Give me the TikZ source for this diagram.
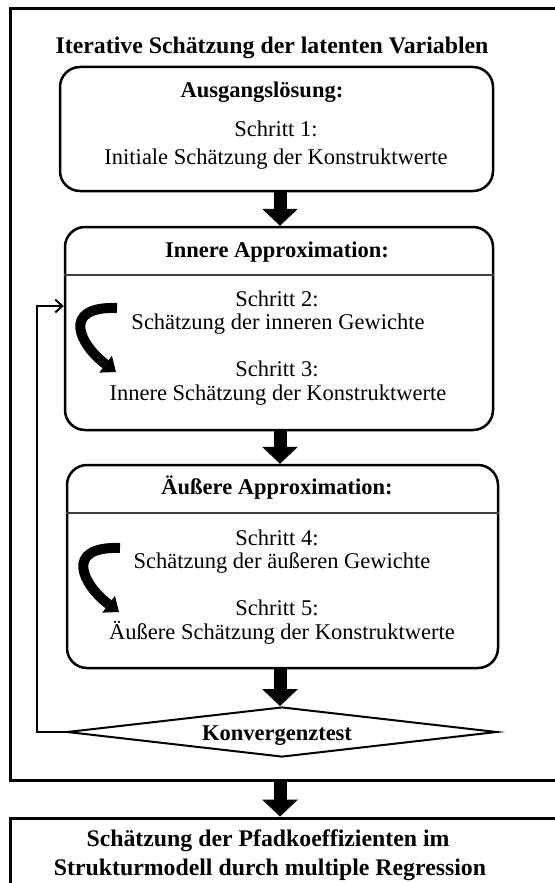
\documentclass[tikz,border=0pt]{standalone}
\usepackage{fontspec}
\setmainfont{Liberation Serif}
\usetikzlibrary{arrows.meta,shapes.geometric}

\begin{document}
\begin{tikzpicture}[x=1pt,y=-1pt,
  txt/.style={font=\fontsize{22.5}{27}\selectfont, inner sep=0pt, anchor=base},
  hd/.style={font=\fontsize{22.5}{27}\selectfont\bfseries, inner sep=0pt, anchor=base},
  bighd/.style={font=\fontsize{23.8}{28}\selectfont\bfseries, inner sep=0pt, anchor=base},
  frame/.style={draw, line width=3pt, inner sep=0pt},
  panel/.style={draw, line width=2.5pt, rounded corners=20pt, inner sep=0pt},
  divider/.style={line width=1.5pt, draw=black!75},
  flow/.style={line width=13pt, -{Triangle[width=36pt,length=17pt,line width=0pt]}},
  turn/.style={line width=10pt, -{Triangle[width=21pt,length=13pt,line width=0pt]}},
  back/.style={line width=2pt, -{Straight Barb[length=7pt,width=13pt]}}
]
\useasboundingbox (0,0) rectangle (554,883);

% outer frame and result box
\node[frame, minimum width=552pt, minimum height=771pt] (outer) at (286,394.5) {};
\node[frame, minimum width=552pt, minimum height=82pt] (result) at (286,859) {};
\node[bighd] (title) at (272,54) {Iterative Schätzung der latenten Variablen};

% step boxes
\node[panel, minimum width=433pt, minimum height=124pt] (start) at (276.5,129) {};
\node[panel, minimum width=428pt, minimum height=203pt] (inner) at (279,328.5) {};
\node[panel, minimum width=431pt, minimum height=203pt] (outerapprox) at (282.5,566.5) {};
\node[diamond, draw, line width=2pt, aspect=8.6, minimum width=430pt,
      minimum height=50pt, inner sep=0pt] (konv) at (282,732) {};

% dividers below the headings
\draw[divider] (inner.west |- 0,275) -- (inner.east |- 0,275);
\draw[divider] (outerapprox.west |- 0,513) -- (outerapprox.east |- 0,513);

% texts
\node[hd] (h1) at (262,97) {Ausgangslösung:};
\node[txt] (s1) at (276,136) {Schritt 1:};
\node[txt] (t1) at (276,164) {Initiale Schätzung der Konstruktwerte};

\node[hd] (h2) at (277,257) {Innere Approximation:};
\node[txt] (s2) at (277,306) {Schritt 2:};
\node[txt] (t2) at (278,329) {Schätzung der inneren Gewichte};
\node[txt] (s3) at (277,376) {Schritt 3:};
\node[txt] (t3) at (278,400) {Innere Schätzung der Konstruktwerte};

\node[hd] (h3) at (277,494) {Äußere Approximation:};
\node[txt] (s4) at (277,545) {Schritt 4:};
\node[txt] (t4) at (282,568) {Schätzung der äußeren Gewichte};
\node[txt] (s5) at (277,615) {Schritt 5:};
\node[txt] (t5) at (282,639) {Äußere Schätzung der Konstruktwerte};

\node[hd] (ktext) at (277,740) {Konvergenztest};

\node[bighd] (r1) at (268,846) {Schätzung der Pfadkoeffizienten im};
\node[bighd] (r2) at (270,875) {Strukturmodell durch multiple Regression};

% main flow
\draw[flow] (start.south -| 280,0) -- (inner.north -| 280,0);
\draw[flow] (inner.south -| 280,0) -- (outerapprox.north -| 280,0);
\draw[flow] (outerapprox.south -| 280,0) -- (konv.north -| 280,0);
\draw[flow] (outer.south -| 280,0) -- (result.north -| 280,0);

% loop back from the convergence test
\coordinate (loop) at (37,306);
\draw[back] (konv.west) -| (loop) -- (loop -| inner.west);

% step-to-step turn arrows
\draw[turn] (117,308) .. controls (60,306) and (80,345) .. (116,372);
\draw[turn] (120,548) .. controls (63,546) and (83,585) .. (119,612);
\end{tikzpicture}
\end{document}
